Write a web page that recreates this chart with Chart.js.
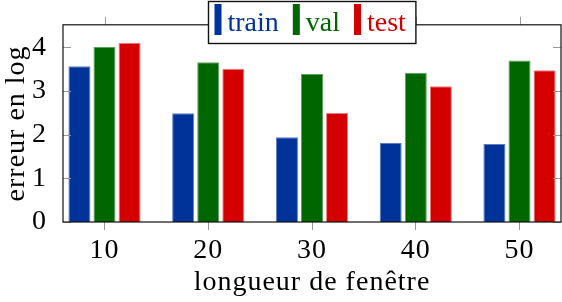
<!DOCTYPE html>
<html>
<head>
<meta charset="utf-8">
<script src="https://cdn.jsdelivr.net/npm/chart.js@4"></script>
<style>
  html, body { margin: 0; padding: 0; background: #fff; }
  canvas { display: block; }
</style>
</head>
<body>
<canvas id="chart" width="562" height="302"></canvas>
<script>
// window lengths (x axis)
const windowLengths = [10, 20, 30, 40, 50]
// log error per split
const trainErr = [3.57, 2.49, 1.94, 1.81, 1.79]
const valErr = [4.01, 3.66, 3.39, 3.42, 3.70]
const testErr = [4.11, 3.51, 2.50, 3.11, 3.48]
const yTickValues = [0, 1, 2, 3, 4]

const seriesNames = ['train', 'val', 'test']
const seriesColors = ['#003399', '#006600', '#d40000']
const seriesEdges = ['rgba(80,110,190,0.9)', 'rgba(80,150,80,0.9)', 'rgba(235,110,110,0.9)']

const FONT = 'Liberation Serif'
const FSIZE = 28

const toPoints = values => values.map((y, i) => ({ x: windowLengths[i], y: y }))

// frame + inward/outward tick marks, pgfplots style
const framePlugin = {
  id: 'frame',
  beforeDraw(chart) {
    // Liberation Serif is narrower than Computer Modern, widen it a bit
    chart.ctx.letterSpacing = '1px'
  },
  afterDatasetsDraw(chart) {
    const { ctx, chartArea: a, scales } = chart
    ctx.save()
    ctx.strokeStyle = '#999'
    ctx.lineWidth = 1
    ctx.beginPath()
    yTickValues.forEach(v => {
      const y = Math.round(scales.y.getPixelForValue(v)) + 0.5
      ctx.moveTo(a.left, y); ctx.lineTo(a.left + 8, y)
      ctx.moveTo(a.right - 8, y); ctx.lineTo(a.right, y)
    })
    windowLengths.forEach(v => {
      const x = Math.round(scales.x.getPixelForValue(v)) + 0.5
      ctx.moveTo(x, a.top - 8); ctx.lineTo(x, a.top)
    })
    ctx.stroke()
    ctx.strokeStyle = '#111'
    ctx.lineWidth = 1.2
    ctx.strokeRect(a.left, a.top, a.right - a.left, a.bottom - a.top)
    ctx.restore()
  },
  afterDraw(chart) {
    // legend box drawn over the top edge of the plot
    const { ctx, chartArea: a } = chart
    ctx.save()
    ctx.letterSpacing = '0px'
    ctx.font = `${FSIZE}px "${FONT}"`
    const widths = seriesNames.map(n => ctx.measureText(n).width)
    const padL = 6, padR = 10, sw = 7, gapT = 6, gapI = 14
    let total = padL + padR
    widths.forEach((w, i) => { total += sw + gapT + w + (i < widths.length - 1 ? gapI : 0) })
    const cx = (a.left + a.right) / 2
    const left = Math.round(cx - total / 2) + 0.5
    const top = 1.5, h = 42
    ctx.fillStyle = '#fff'
    ctx.fillRect(left, top, total, h)
    ctx.strokeStyle = '#111'
    ctx.lineWidth = 1.4
    ctx.strokeRect(left, top, total, h)
    let x = left + padL
    seriesNames.forEach((n, i) => {
      ctx.fillStyle = seriesColors[i]
      ctx.fillRect(x, 4, sw, 31)
      x += sw + gapT
      ctx.textBaseline = 'alphabetic'
      ctx.fillText(n, x, 31)
      x += widths[i] + gapI
    })
    ctx.restore()
  }
}

const datasets = seriesNames.map((name, i) => ({
  label: name,
  data: toPoints([trainErr, valErr, testErr][i]),
  backgroundColor: seriesColors[i],
  borderColor: seriesEdges[i],
  borderWidth: 1,
  categoryPercentage: 0.725,
  barPercentage: 0.88
}))

new Chart(document.getElementById('chart'), {
  type: 'bar',
  data: { datasets: datasets },
  plugins: [framePlugin],
  options: {
    responsive: false,
    animation: false,
    layout: { padding: { top: 20, right: 1, left: 0, bottom: 0 } },
    plugins: {
      legend: { display: false },
      tooltip: { enabled: false }
    },
    scales: {
      x: {
        type: 'linear',
        min: 6,
        max: 54,
        offset: false,
        afterBuildTicks: s => { s.ticks = windowLengths.map(v => ({ value: v })) },
        afterFit: s => { s.height = 80 },
        grid: { offset: false, drawOnChartArea: false, drawTicks: true, tickLength: 8, color: '#999' },
        border: { display: false },
        ticks: { color: '#000', font: { family: FONT, size: FSIZE }, padding: 4, maxRotation: 0 },
        title: {
          display: true,
          text: 'longueur de fenêtre',
          color: '#000',
          font: { family: FONT, size: FSIZE },
          padding: { top: 0, bottom: 3 }
        }
      },
      y: {
        min: 0,
        max: 4.52,
        afterBuildTicks: s => { s.ticks = yTickValues.map(v => ({ value: v })) },
        afterFit: s => { s.width = 63 },
        grid: { display: false },
        border: { display: false },
        ticks: { color: '#000', font: { family: FONT, size: FSIZE }, padding: 8 },
        title: {
          display: true,
          text: 'erreur en log',
          color: '#000',
          font: { family: FONT, size: FSIZE },
          padding: { top: 0, bottom: 0 }
        }
      }
    }
  }
})
</script>
</body>
</html>
